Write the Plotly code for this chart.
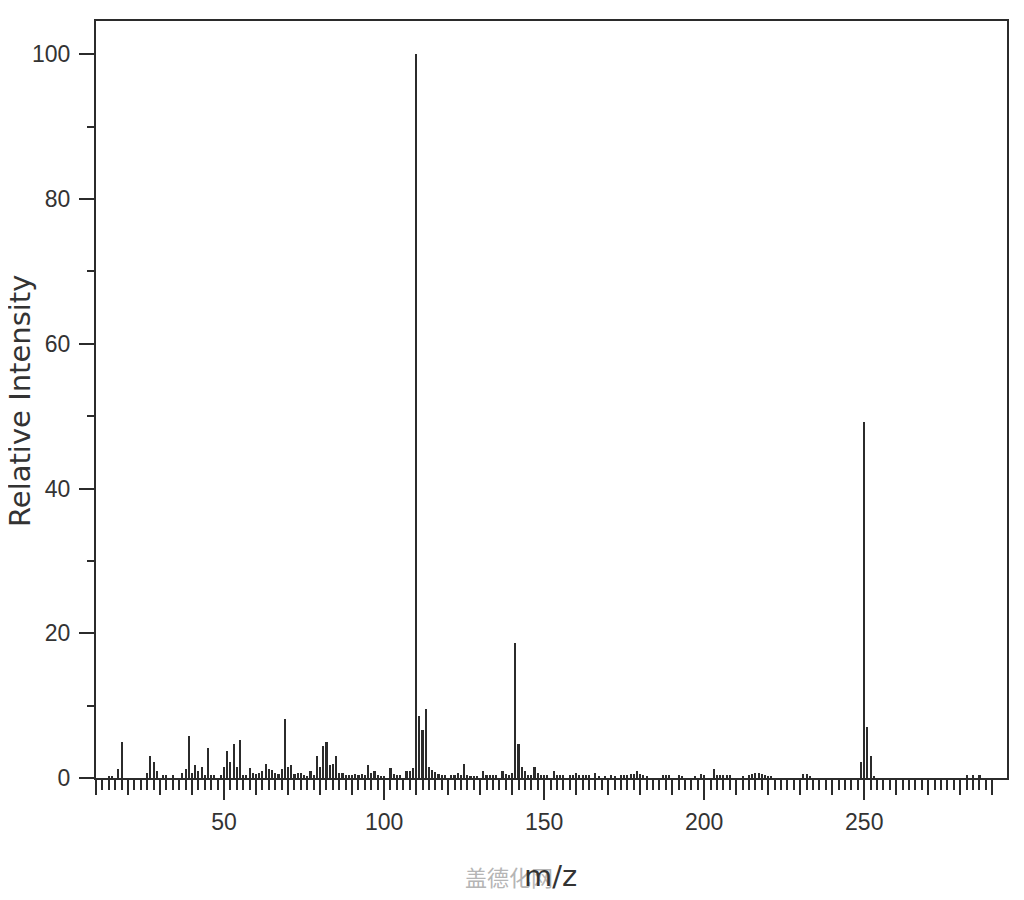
import numpy as np
import plotly.graph_objects as go

# m/z values and relative intensities
mz = [14, 15, 17, 18, 26, 27, 28, 29, 31, 32, 34, 37, 38, 39, 40, 41, 42, 43, 44, 45,
      46, 47, 49, 50, 51, 52, 53, 54, 55, 56, 57, 58, 59, 60, 61, 62, 63, 64, 65, 66,
      67, 68, 69, 70, 71, 72, 73, 74, 75, 76, 77, 78, 79, 80, 81, 82, 83, 84, 85, 86,
      87, 88, 89, 90, 91, 92, 93, 94, 95, 96, 97, 98, 99, 100, 102, 103, 104, 105, 107, 108,
      109, 110, 111, 112, 113, 114, 115, 116, 117, 118, 119, 121, 122, 123, 124, 125, 126, 127, 128, 129,
      131, 132, 133, 134, 135, 137, 138, 139, 140, 141, 142, 143, 144, 145, 146, 147, 148, 149, 150, 151,
      153, 154, 155, 156, 158, 159, 160, 161, 162, 163, 164, 166, 167, 169, 171, 172, 174, 175, 176, 177,
      178, 179, 180, 181, 182, 187, 188, 189, 192, 193, 197, 199, 200, 203, 204, 205, 206, 207, 208, 212,
      214, 215, 216, 217, 218, 219, 220, 221, 231, 232, 233, 249, 250, 251, 252, 253, 282, 284, 286]
intensity = [0.3, 0.3, 1.2, 5.0, 0.7, 3.0, 2.2, 1.0, 0.4, 0.4, 0.4, 0.7, 1.2, 5.8, 0.7, 1.75, 0.9, 1.5, 0.4, 4.1,
             0.4, 0.4, 0.4, 1.5, 3.8, 2.2, 4.7, 1.5, 5.2, 0.4, 0.4, 1.4, 0.7, 0.5, 0.7, 1.0, 1.9, 1.3, 1.05, 0.7,
             0.6, 1.2, 8.2, 1.5, 1.75, 0.5, 0.7, 0.7, 0.4, 0.3, 1.0, 0.4, 3.0, 1.5, 4.4, 5.0, 1.75, 1.9, 3.0, 0.7,
             0.7, 0.4, 0.4, 0.4, 0.6, 0.4, 0.6, 0.4, 1.75, 0.7, 0.9, 0.4, 0.3, 0.2, 1.4, 0.6, 0.4, 0.4, 1.0, 1.0,
             1.4, 100.0, 8.5, 6.6, 9.6, 1.5, 1.05, 0.8, 0.5, 0.4, 0.4, 0.4, 0.45, 0.7, 0.4, 1.9, 0.45, 0.3, 0.15, 0.3,
             1.0, 0.45, 0.4, 0.4, 0.4, 1.0, 0.6, 0.4, 0.7, 18.6, 4.7, 1.5, 1.0, 0.45, 0.4, 1.5, 0.7, 0.4, 0.4, 0.4,
             1.0, 0.45, 0.4, 0.4, 0.4, 0.45, 0.7, 0.4, 0.4, 0.45, 0.4, 0.7, 0.3, 0.2, 0.4, 0.3, 0.4, 0.4, 0.45, 0.5,
             0.6, 1.0, 0.6, 0.4, 0.2, 0.4, 0.4, 0.45, 0.4, 0.3, 0.2, 0.6, 0.4, 1.2, 0.45, 0.4, 0.4, 0.4, 0.4, 0.3,
             0.4, 0.6, 0.7, 0.7, 0.6, 0.45, 0.2, 0.3, 0.6, 0.6, 0.3, 2.2, 49.2, 7.1, 3.0, 0.3, 0.4, 0.4, 0.4]

x_ticks = [50, 100, 150, 200, 250]
y_ticks = [0, 20, 40, 60, 80, 100]
x_small_ticks = list(np.arange(10, 291, 2))

INK = "#2b2b2b"

fig = go.Figure()
fig.add_trace(go.Bar(x=mz, y=intensity, width=0.65,
                     marker=dict(color=INK, line=dict(width=0)),
                     showlegend=False, hoverinfo="x+y"))
fig.add_trace(go.Scatter(x=[], y=[], xaxis="x2", yaxis="y", showlegend=False))

fig.update_layout(
    width=1024, height=900,
    margin=dict(l=88, r=25, t=11, b=130),
    paper_bgcolor="white", plot_bgcolor="white",
    bargap=0,
    xaxis=dict(range=[10, 294.6], tickmode="array", tickvals=x_ticks,
               ticks="outside", ticklen=20, tickwidth=2, tickcolor=INK,
               showline=True, linecolor=INK, linewidth=2, mirror=True,
               showgrid=False, zeroline=False,
               tickfont=dict(family="Liberation Sans", size=23, color="#333333"),
               ticklabelstandoff=2,
               minor=dict(tickmode="linear", tick0=0, dtick=10, ticks="outside",
                          ticklen=15, tickwidth=2, tickcolor=INK, showgrid=False)),
    xaxis2=dict(range=[10, 294.6], overlaying="x", anchor="y", side="bottom",
                tickmode="array", tickvals=x_small_ticks, ticks="outside",
                ticklen=11, tickwidth=2, tickcolor=INK, showticklabels=False,
                showline=False, showgrid=False, zeroline=False),
    yaxis=dict(range=[0, 104.6], tickmode="array", tickvals=y_ticks,
               ticks="outside", ticklen=15, tickwidth=2, tickcolor=INK,
               showline=True, linecolor=INK, linewidth=2, mirror=True,
               showgrid=False, zeroline=False,
               tickfont=dict(family="Liberation Sans", size=23, color="#333333"),
               ticklabelstandoff=4,
               minor=dict(tickmode="linear", tick0=0, dtick=10, ticks="outside",
                          ticklen=7, tickwidth=2, tickcolor=INK, showgrid=False)),
    annotations=[
        dict(text="Relative Intensity", xref="paper", yref="paper",
             x=(20 - 96) / 911, y=0.498, xanchor="center", yanchor="middle",
             textangle=-90, showarrow=False, borderpad=0,
             font=dict(family="DejaVu Sans", size=29, color="#333333")),
        dict(text="盖德化网", xref="paper", yref="paper",
             x=(509 - 96) / 911, y=(778 - 876) / 759, xanchor="center", yanchor="middle",
             showarrow=False,
             font=dict(family="Noto Sans CJK SC", size=22, color="#b5b5b5")),
        dict(text="m/z", xref="paper", yref="paper",
             x=(550 - 96) / 911, y=(778 - 876) / 759, xanchor="center", yanchor="middle",
             showarrow=False,
             font=dict(family="DejaVu Sans", size=29, color="#333333")),
    ],
)

fig.write_html("out.html")
